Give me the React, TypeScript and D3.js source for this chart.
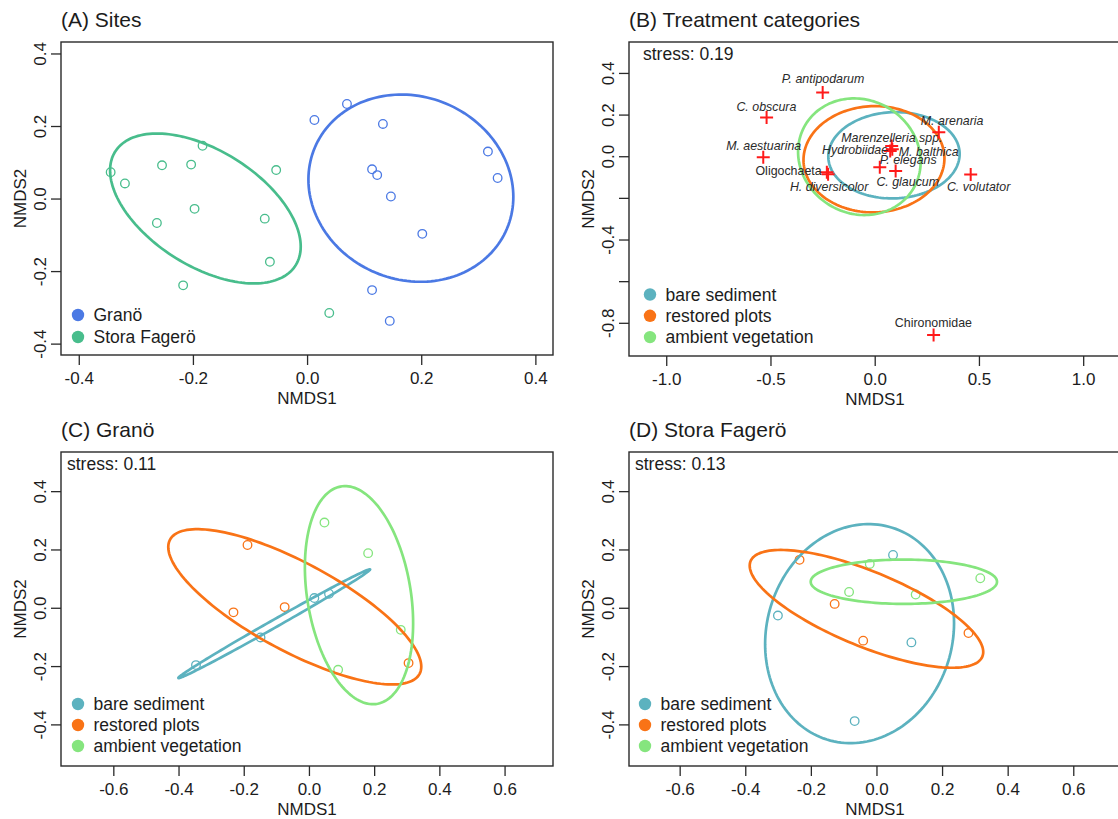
import React, { useEffect, useRef } from "react";
import * as d3 from "d3";

// ---------- data ----------
const siteGroups = ["Granö", "Stora Fagerö"];
const granoScores = [
  [0.012, 0.218], [0.069, 0.262], [0.132, 0.207], [0.113, 0.082], [0.122, 0.066],
  [0.146, 0.007], [0.201, -0.096], [0.316, 0.131], [0.333, 0.058], [0.113, -0.251],
  [0.144, -0.336],
];
const fageroScores = [
  [-0.345, 0.074], [-0.32, 0.043], [-0.255, 0.093], [-0.204, 0.095], [-0.184, 0.147],
  [-0.055, 0.08], [-0.198, -0.027], [-0.264, -0.066], [-0.075, -0.054], [-0.066, -0.173],
  [-0.218, -0.238], [0.038, -0.314],
];
// ellipse: centre, half conjugate diameter to the rightmost point (ux, uy), vertical conjugate h
const siteEllipses = [
  { cx: 0.181, cy: 0.03, ux: 0.1795, uy: -0.024, h: 0.257 },
  { cx: -0.179, cy: -0.026, ux: 0.167, uy: -0.105, h: 0.178 },
];

const treatments = ["bare sediment", "restored plots", "ambient vegetation"];

const species = [
  "P. antipodarum", "C. obscura", "M. aestuarina", "Oligochaeta", "H. diversicolor",
  "Marenzelleria spp.", "Hydrobiidae", "M. balthica", "P. elegans", "C. glaucum",
  "M. arenaria", "C. volutator", "Chironomidae",
];
const speciesX = [-0.252, -0.521, -0.537, -0.232, -0.226, 0.079, 0.072, 0.082, 0.022, 0.098, 0.305, 0.458, 0.28];
const speciesY = [0.309, 0.189, -0.003, -0.075, -0.084, 0.051, 0.028, 0.036, -0.051, -0.068, 0.118, -0.085, -0.856];
const speciesItalic = [true, true, true, false, true, true, true, true, true, true, true, true, false];
// where R's text() put each name (data units) and how it was anchored
const speciesLabelX = [-0.25, -0.522, -0.535, -0.257, -0.221, 0.08, 0.062, 0.113, 0.158, 0.156, 0.369, 0.496, 0.279];
const speciesLabelY = [0.373, 0.24, 0.051, -0.069, -0.145, 0.093, 0.032, 0.024, -0.016, -0.12, 0.171, -0.144, -0.797];
const speciesLabelAnchor = ["middle", "middle", "middle", "end", "middle", "middle", "end", "start", "middle", "middle", "middle", "middle", "middle"];

const treatmentEllipsesB = [
  { cx: 0.09, cy: 0.007, ux: 0.315, uy: 0.006, h: 0.207 },
  { cx: -0.006, cy: -0.012, ux: 0.338, uy: 0.004, h: 0.255 },
  { cx: -0.076, cy: 0.0, ux: 0.294, uy: -0.024, h: 0.279 },
];

const granoPlots = [
  [[-0.348, -0.195], [-0.15, -0.1], [0.015, 0.035], [0.06, 0.05]],
  [[-0.19, 0.217], [-0.233, -0.014], [-0.076, 0.004], [0.304, -0.188]],
  [[0.046, 0.294], [0.18, 0.189], [0.28, -0.074], [0.088, -0.211]],
];
const granoEllipses = [
  { cx: -0.108, cy: -0.053, ux: 0.294, uy: 0.186, h: 0.015 },
  { cx: -0.045, cy: 0.005, ux: 0.388, uy: -0.205, h: 0.17 },
  { cx: 0.152, cy: 0.045, ux: 0.166, uy: -0.096, h: 0.3615 },
];

const fageroPlots = [
  [[0.049, 0.183], [-0.302, -0.025], [0.105, -0.117], [-0.068, -0.387]],
  [[-0.236, 0.166], [-0.129, 0.015], [-0.042, -0.111], [0.279, -0.085]],
  [[-0.022, 0.152], [-0.085, 0.056], [0.118, 0.047], [0.315, 0.103]],
];
const fageroEllipses = [
  { cx: -0.053, cy: -0.087, ux: 0.288, uy: 0.036, h: 0.374 },
  { cx: -0.032, cy: -0.002, ux: 0.356, uy: -0.148, h: 0.1375 },
  { cx: 0.082, cy: 0.091, ux: 0.284, uy: 0.0, h: 0.076 },
];

const stressValues = ["0.19", "0.11", "0.13"];

const ticksA = [-0.4, -0.2, 0, 0.2, 0.4];
const ticksBx = [-1, -0.5, 0, 0.5, 1];
const ticksBy = [-0.8, -0.6, -0.4, -0.2, 0, 0.2, 0.4];
const labelsBy = ["-0.8", "", "-0.4", "", "0.0", "0.2", "0.4"];
const ticksCDx = [-0.6, -0.4, -0.2, 0, 0.2, 0.4, 0.6];
const ticksCDy = [-0.4, -0.2, 0, 0.2, 0.4];

const siteColors = ["#4b79e4", "#48bd8c"];
const treatColors = ["#5cb2bf", "#f97316", "#85e57e"];
const FONT = "'Liberation Sans', Arial, Helvetica, sans-serif";
const INK = "#1c1c1c";

const App = () => {
  const svgRef = useRef<SVGSVGElement | null>(null);

  useEffect(() => {
    const svg = d3.select(svgRef.current);
    svg.selectAll("*").remove();

    const fmt = (v: number) => v.toFixed(1);

    // frame, axes, titles for one panel
    const makePanel = (p: any) => {
      const g = svg.append("g");
      const x = d3.scaleLinear().domain(p.xDomain).range([p.box[0], p.box[1]]);
      const y = d3.scaleLinear().domain(p.yDomain).range([p.box[3], p.box[2]]);
      const [x0, x1, y0, y1] = p.box;

      g.append("text")
        .attr("x", x0)
        .attr("y", y0 - 15)
        .attr("font-size", 21)
        .attr("fill", INK)
        .text(p.title);

      g.append("rect")
        .attr("x", x0)
        .attr("y", y0)
        .attr("width", x1 - x0)
        .attr("height", y1 - y0)
        .attr("fill", "none")
        .attr("stroke", "#2a2a2a")
        .attr("stroke-width", 1.4);

      // x axis
      p.xTicks.forEach((t: number) => {
        g.append("line")
          .attr("x1", x(t)).attr("x2", x(t))
          .attr("y1", y1).attr("y2", y1 + 10)
          .attr("stroke", "#2a2a2a").attr("stroke-width", 1.3);
        g.append("text")
          .attr("x", x(t)).attr("y", y1 + 29)
          .attr("text-anchor", "middle")
          .attr("font-size", 17).attr("fill", INK)
          .text(fmt(t));
      });
      g.append("text")
        .attr("x", (x0 + x1) / 2).attr("y", y1 + 49)
        .attr("text-anchor", "middle")
        .attr("font-size", 17).attr("fill", INK)
        .text("NMDS1");

      // y axis
      p.yTicks.forEach((t: number, i: number) => {
        g.append("line")
          .attr("x1", x0 - 10).attr("x2", x0)
          .attr("y1", y(t)).attr("y2", y(t))
          .attr("stroke", "#2a2a2a").attr("stroke-width", 1.3);
        const lab = p.yLabels ? p.yLabels[i] : fmt(t);
        if (lab) {
          g.append("text")
            .attr("transform", `translate(${x0 - 21},${y(t)}) rotate(-90)`)
            .attr("dy", "0.35em")
            .attr("text-anchor", "middle")
            .attr("font-size", 17).attr("fill", INK)
            .text(lab);
        }
      });
      g.append("text")
        .attr("transform", `translate(${x0 - 40.5},${(y0 + y1) / 2}) rotate(-90)`)
        .attr("dy", "0.35em")
        .attr("text-anchor", "middle")
        .attr("font-size", 17).attr("fill", INK)
        .text("NMDS2");

      if (p.stress) {
        g.append("text")
          .attr("x", x0 + p.stressInset).attr("y", y0 + 18)
          .attr("font-size", 17.5).attr("fill", INK)
          .text(`stress: ${p.stress}`);
      }

      // legend
      p.legend.forEach((name: string, i: number) => {
        const ly = p.legendY + i * p.legendStep;
        g.append("circle")
          .attr("cx", p.legendX).attr("cy", ly).attr("r", 6.2)
          .attr("fill", p.colors[i]);
        g.append("text")
          .attr("x", p.legendX + 15.5).attr("y", ly)
          .attr("dy", "0.35em")
          .attr("font-size", 17.5).attr("fill", INK)
          .text(name);
      });

      return { g, x, y };
    };

    const drawEllipse = (g: any, x: any, y: any, e: any, color: string) => {
      const pts = d3.range(0, 160).map((i) => {
        const t = (i / 160) * 2 * Math.PI;
        return [e.cx + e.ux * Math.cos(t), e.cy + e.uy * Math.cos(t) + e.h * Math.sin(t)];
      });
      const line = d3
        .line()
        .x((d: any) => x(d[0]))
        .y((d: any) => y(d[1]))
        .curve(d3.curveLinearClosed);
      g.append("path")
        .attr("d", line(pts as any))
        .attr("fill", "none")
        .attr("stroke", color)
        .attr("stroke-width", 2.7);
    };

    const drawPoints = (g: any, x: any, y: any, pts: number[][], color: string) => {
      g.selectAll(null)
        .data(pts)
        .enter()
        .append("circle")
        .attr("cx", (d: number[]) => x(d[0]))
        .attr("cy", (d: number[]) => y(d[1]))
        .attr("r", 4.3)
        .attr("fill", "none")
        .attr("stroke", color)
        .attr("stroke-width", 1.3);
    };

    // (A) Sites
    const A = makePanel({
      title: "(A) Sites",
      box: [61, 553, 42, 355],
      xDomain: [-0.432, 0.43],
      yDomain: [-0.43, 0.433],
      xTicks: ticksA,
      yTicks: ticksA,
      legend: siteGroups,
      colors: siteColors,
      legendX: 78,
      legendY: 315,
      legendStep: 22,
    });
    drawPoints(A.g, A.x, A.y, granoScores, siteColors[0]);
    drawPoints(A.g, A.x, A.y, fageroScores, siteColors[1]);
    siteEllipses.forEach((e, i) => drawEllipse(A.g, A.x, A.y, e, siteColors[i]));

    // (B) Treatment categories
    const B = makePanel({
      title: "(B) Treatment categories",
      box: [629, 1121, 42, 356],
      xDomain: [-1.181, 1.179],
      yDomain: [-0.957, 0.551],
      xTicks: ticksBx,
      yTicks: ticksBy,
      yLabels: labelsBy,
      stress: stressValues[0],
      stressInset: 14,
      legend: treatments,
      colors: treatColors,
      legendX: 650,
      legendY: 294.5,
      legendStep: 21.3,
    });
    treatmentEllipsesB.forEach((e, i) => drawEllipse(B.g, B.x, B.y, e, treatColors[i]));
    species.forEach((name, i) => {
      const cx = B.x(speciesX[i]);
      const cy = B.y(speciesY[i]);
      B.g.append("path")
        .attr("d", `M${cx - 6.5},${cy}H${cx + 6.5}M${cx},${cy - 6.5}V${cy + 6.5}`)
        .attr("stroke", "#ff1a1a")
        .attr("stroke-width", 2);
      B.g.append("text")
        .attr("x", B.x(speciesLabelX[i]))
        .attr("y", B.y(speciesLabelY[i]))
        .attr("dy", "0.35em")
        .attr("text-anchor", speciesLabelAnchor[i])
        .attr("font-size", 12.4)
        .attr("font-style", speciesItalic[i] ? "italic" : "normal")
        .attr("fill", "#2a2a2a")
        .text(name);
    });

    // (C) Granö
    const C = makePanel({
      title: "(C) Granö",
      box: [61, 553, 452, 766],
      xDomain: [-0.762, 0.747],
      yDomain: [-0.541, 0.536],
      xTicks: ticksCDx,
      yTicks: ticksCDy,
      stress: stressValues[1],
      stressInset: 6,
      legend: treatments,
      colors: treatColors,
      legendX: 78,
      legendY: 704,
      legendStep: 21,
    });
    granoPlots.forEach((pts, i) => drawPoints(C.g, C.x, C.y, pts, treatColors[i]));
    granoEllipses.forEach((e, i) => drawEllipse(C.g, C.x, C.y, e, treatColors[i]));

    // (D) Stora Fagerö
    const D = makePanel({
      title: "(D) Stora Fagerö",
      box: [629, 1121, 452, 766],
      xDomain: [-0.756, 0.744],
      yDomain: [-0.541, 0.536],
      xTicks: ticksCDx,
      yTicks: ticksCDy,
      stress: stressValues[2],
      stressInset: 6,
      legend: treatments,
      colors: treatColors,
      legendX: 645,
      legendY: 704,
      legendStep: 21,
    });
    fageroPlots.forEach((pts, i) => drawPoints(D.g, D.x, D.y, pts, treatColors[i]));
    fageroEllipses.forEach((e, i) => drawEllipse(D.g, D.x, D.y, e, treatColors[i]));
  }, []);

  return (
    <svg
      ref={svgRef}
      width={1118}
      height={819}
      style={{ position: "absolute", left: 0, top: 0, background: "#fff", fontFamily: FONT }}
    ></svg>
  );
};

export default App;
